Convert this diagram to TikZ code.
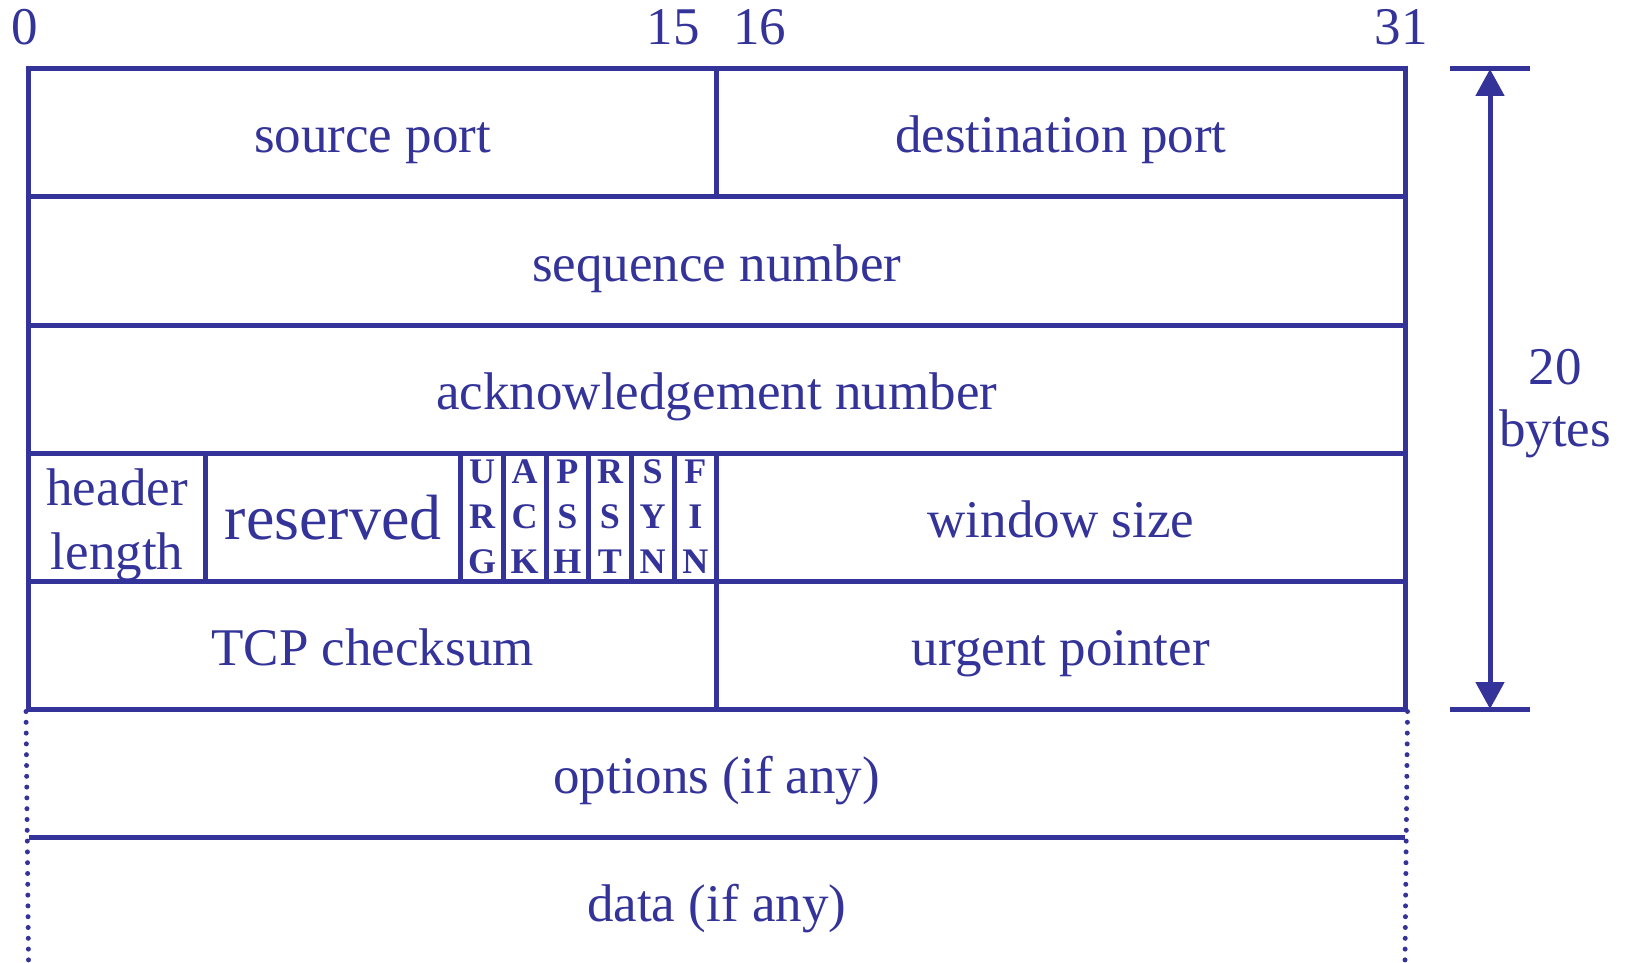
\documentclass[tikz,border=0pt]{standalone}
\usepackage{fontspec}
\setmainfont{Liberation Serif}
\usetikzlibrary{arrows.meta}
\definecolor{tcpblue}{RGB}{51,51,153}
% \tcpfield[text style]{name}{x1}{y1}{x2}{y2}{text}: a boxed header field
% with its caption set as a separate node (name-t) on a common baseline
\newcommand\tcpfield[7][]{%
  \pgfmathsetmacro\fieldw{(#5-#3)*0.5}%
  \pgfmathsetmacro\fieldh{(#6-#4)*0.5}%
  \node[field, minimum width=\fieldw pt, minimum height=\fieldh pt]
    (#2) at ({(#3+#5)/2},{(#4+#6)/2}) {};
  \node[label, #1] (#2-t) at (#2.center) {#7};}
\begin{document}
\begin{tikzpicture}[x=0.5pt,y=-0.5pt,
  rule/.style={draw=tcpblue, line width=2.5pt},
  field/.style={draw=tcpblue, line width=2.5pt, inner sep=0pt},
  label/.style={inner sep=0pt, text=tcpblue, align=center,
    text height=20pt, text depth=0pt,
    font=\fontsize{26.5}{31.8}\selectfont},
  multiline/.style={text height=, text depth=},
  flagtext/.style={multiline, font=\bfseries\fontsize{18}{22.5}\selectfont},
  bitnum/.style={inner sep=0pt, text=tcpblue, font=\fontsize{26.5}{31.8}\selectfont},
  dotline/.style={draw=tcpblue, line width=2.5pt, line cap=round, dash pattern=on 0pt off 5.4pt},
  span/.style={draw=tcpblue, line width=2.5pt,
    {Triangle[length=13.5pt,width=14pt]}-{Triangle[length=13.5pt,width=14pt]}}]
\useasboundingbox (0,0) rectangle (1630,963);

% bit numbers
\node[bitnum, anchor=base] (b0) at (25,45) {0};
\node[bitnum, anchor=base east] (b15) at (700,45) {15};
\node[bitnum, anchor=base west] (b16) at (733,45) {16};
\node[bitnum, anchor=base east] (b31) at (1428,45) {31};

% row 1
\tcpfield{sport}{28.5}{69}{716.7}{197}{source port}
\tcpfield{dport}{716.7}{69}{1405}{197}{destination port}
% rows 2 and 3
\tcpfield{seq}{28.5}{197}{1405}{325}{sequence number}
\tcpfield{ackn}{28.5}{325}{1405}{453}{acknowledgement number}
% row 4
\tcpfield[multiline, yshift=-4pt]{hlen}{28.5}{453}{205.7}{581}{header\\length}
\tcpfield[font=\fontsize{32}{38}\selectfont, text height=22pt]{resv}{205.7}{453}{460.7}{581}{reserved}
\tcpfield[flagtext]{furg}{460.7}{453}{503.3}{581}{U\\R\\G}
\tcpfield[flagtext]{fack}{503.3}{453}{546}{581}{A\\C\\K}
\tcpfield[flagtext]{fpsh}{546}{453}{588.7}{581}{P\\S\\H}
\tcpfield[flagtext]{frst}{588.7}{453}{631.3}{581}{R\\S\\T}
\tcpfield[flagtext]{fsyn}{631.3}{453}{674}{581}{S\\Y\\N}
\tcpfield[flagtext]{ffin}{674}{453}{716.7}{581}{F\\I\\N}
\tcpfield{win}{716.7}{453}{1405}{581}{window size}
% row 5
\tcpfield{csum}{28.5}{581}{716.7}{709}{TCP checksum}
\tcpfield{urg}{716.7}{581}{1405}{709}{urgent pointer}

% optional part: open at the sides
\node[label] (opt) at (716.7,773) {options (if any)};
\node[label] (data) at (716.7,901) {data (if any)};
\coordinate (optl) at (28.5,837);
\coordinate (optr) at (1405,837);
\coordinate (endl) at (28.5,960);
\coordinate (endr) at (1405,960);
\draw[rule] (optl) -- (optr);
\draw[dotline] (csum.south west) -- (endl);
\draw[dotline] (urg.south east) -- (endr);

% header size
\coordinate (topmark) at (1490,69);
\coordinate (botmark) at (1490,709);
\draw[rule] (1450,69) -- (1530,69);
\draw[rule] (1450,709) -- (1530,709);
\draw[span] (topmark) -- (botmark);
\node[label, multiline, font=\fontsize{26.5}{31}\selectfont] (size) at (1555,404) {20\\bytes};
\end{tikzpicture}
\end{document}
